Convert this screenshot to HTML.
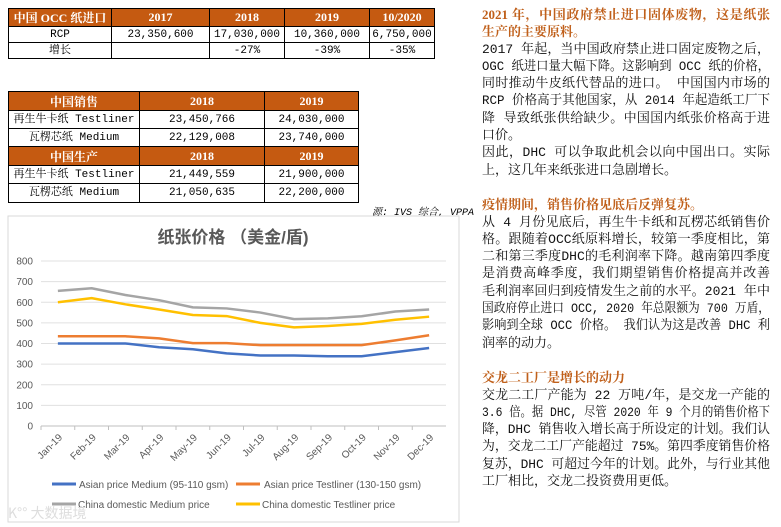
<!DOCTYPE html>
<html><head><meta charset="utf-8">
<style>
body{margin:0;width:781px;height:527px;background:#fff;position:relative;overflow:hidden;font-family:"Liberation Mono","Noto Serif CJK SC",monospace;}
table{border-collapse:collapse;position:absolute;font-size:11px;}
td{border:1px solid #000;text-align:center;padding:0;line-height:14px;}
th{background:#c55a11;color:#fff;font-family:"Liberation Serif","Noto Serif CJK SC",serif;font-weight:bold;font-size:12px;border:1px solid #000;padding:0;}
.txt{position:absolute;left:482px;width:288px;font-size:13px;color:#111;}
.txt div{height:17.3px;line-height:17.3px;white-space:nowrap;text-align:justify;text-align-last:justify;transform-origin:0 50%;}
.txt div.l{text-align-last:left;}
.txt .h{color:#c0601b;font-weight:bold;font-family:"Liberation Serif","Noto Serif CJK SC",serif;}
</style></head><body>
<table style="left:8px;top:8px;width:427px;">
<tr style="height:16px"><th style="width:102px">中国 OCC 纸进口</th><th style="width:97px">2017</th><th style="width:74px">2018</th><th style="width:84px">2019</th><th>10/2020</th></tr>
<tr style="height:16px"><td>RCP</td><td>23,350,600</td><td>17,030,000</td><td>10,360,000</td><td>6,750,000</td></tr>
<tr style="height:16px"><td>增长</td><td></td><td>-27%</td><td>-39%</td><td>-35%</td></tr>
</table>
<table style="left:8px;top:91px;width:351px;">
<tr style="height:19px"><th style="width:130px">中国销售</th><th style="width:124px">2018</th><th>2019</th></tr>
<tr style="height:18px"><td>再生牛卡纸 Testliner</td><td>23,450,766</td><td>24,030,000</td></tr>
<tr style="height:18px"><td>瓦楞芯纸 Medium</td><td>22,129,008</td><td>23,740,000</td></tr>
<tr style="height:19px"><th>中国生产</th><th>2018</th><th>2019</th></tr>
<tr style="height:18px"><td>再生牛卡纸 Testliner</td><td>21,449,559</td><td>21,900,000</td></tr>
<tr style="height:19px"><td>瓦楞芯纸 Medium</td><td>21,050,635</td><td>22,200,000</td></tr>
</table>
<div style="position:absolute;left:372px;top:203px;font-size:10px;font-style:italic;">源: IVS 综合, VPPA</div>

<svg style="position:absolute;left:0;top:0" width="781" height="527">
<rect x="8" y="216" width="451" height="306" fill="#fff" stroke="#d9d9d9"/>
<text x="233" y="243" text-anchor="middle" font-size="17" font-weight="bold" fill="#595959" font-family="Liberation Sans,Noto Sans CJK SC,sans-serif">纸张价格 （美金/盾)</text>
<g id="grid"></g><g id="lines"></g><g id="labels"></g>
<g font-family="Liberation Sans,sans-serif" font-size="10" fill="#595959">
<line x1="52" y1="484" x2="76" y2="484" stroke="#4472c4" stroke-width="3"/><text x="79" y="488">Asian price Medium (95-110 gsm)</text>
<line x1="236" y1="484" x2="260" y2="484" stroke="#ed7d31" stroke-width="3"/><text x="264" y="488">Asian price Testliner (130-150 gsm)</text>
<line x1="52" y1="504" x2="76" y2="504" stroke="#a5a5a5" stroke-width="3"/><text x="78" y="508">China domestic  Medium price</text>
<line x1="236" y1="504" x2="260" y2="504" stroke="#ffc000" stroke-width="3"/><text x="262" y="508">China domestic  Testliner price</text>
</g>
<text x="8" y="518" font-size="14" fill="#ddd" font-family="Noto Sans CJK SC,sans-serif">K°° 大数据境</text>
</svg>

<div class="txt" style="top:6px">
<div class="h">2021 年，中国政府禁止进口固体废物，这是纸张</div>
<div class="h l">生产的主要原料。</div>
<div>2017 年起，当中国政府禁止进口固定废物之后，</div>
<div>OGC 纸进口量大幅下降。这影响到 OCC 纸的价格，</div>
<div>同时推动牛皮纸代替品的进口。  中国国内市场的</div>
<div>RCP 价格高于其他国家，从 2014 年起造纸工厂下</div>
<div>降 导致纸张供给缺少。中国国内纸张价格高于进</div>
<div class="l">口价。</div>
<div>因此，DHC 可以争取此机会以向中国出口。实际</div>
<div class="l">上，这几年来纸张进口急剧增长。</div>
<div class="l">&nbsp;</div>
<div class="h l">疫情期间，销售价格见底后反弹复苏。</div>
<div>从 4 月份见底后，再生牛卡纸和瓦楞芯纸销售价</div>
<div>格。跟随着OCC纸原料增长，较第一季度相比，第</div>
<div>二和第三季度DHC的毛利润率下降。越南第四季度</div>
<div>是消费高峰季度，我们期望销售价格提高并改善</div>
<div>毛利润率回归到疫情发生之前的水平。2021 年中</div>
<div>国政府停止进口 OCC, 2020 年总限额为 700 万盾，</div>
<div>影响到全球 OCC 价格。  我们认为这是改善 DHC 利</div>
<div class="l">润率的动力。</div>
<div class="l">&nbsp;</div>
<div class="h l">交龙二工厂是增长的动力</div>
<div>交龙二工厂产能为 22 万吨/年，是交龙一产能的</div>
<div>3.6 倍。据 DHC, 尽管 2020 年 9 个月的销售价格下</div>
<div>降，DHC 销售收入增长高于所设定的计划。我们认</div>
<div>为，交龙二工厂产能超过 75%。第四季度销售价格</div>
<div>复苏，DHC 可超过今年的计划。此外，与行业其他</div>
<div class="l">工厂相比，交龙二投资费用更低。</div>
</div>

<script>
const months=["Jan-19","Feb-19","Mar-19","Apr-19","May-19","Jun-19","Jul-19","Aug-19","Sep-19","Oct-19","Nov-19","Dec-19"];
const asianMedium=[400,400,400,382,372,352,342,342,338,338,358,378];
const asianTestliner=[435,435,435,425,402,402,392,392,392,392,415,440];
const chinaMedium=[655,668,635,610,575,570,550,518,522,532,555,565];
const chinaTestliner=[600,620,590,565,538,533,500,478,485,495,515,530];
const yTicks=[0,100,200,300,400,500,600,700,800];
const NS="http://www.w3.org/2000/svg";
const x0=41,x1=446,yb=426,yt=261;
function xs(i){return x0+(x1-x0)/months.length*(i+0.5);}
function ys(v){return yb-(yb-yt)*v/800;}
const grid=document.getElementById('grid'),lab=document.getElementById('labels'),lg=document.getElementById('lines');
yTicks.forEach(t=>{
 const l=document.createElementNS(NS,'line');
 
 
 l.setAttribute('x1',x0);l.setAttribute('x2',x1);l.setAttribute('y1',ys(t));l.setAttribute('y2',ys(t));
 l.setAttribute('stroke',t===0?'#bfbfbf':'#e0e0e0');grid.appendChild(l);
 const tx=document.createElementNS(NS,'text');
 
 
 tx.setAttribute('x',33);tx.setAttribute('y',ys(t)+3.5);tx.setAttribute('text-anchor','end');
 tx.setAttribute('font-size','10');tx.setAttribute('fill','#595959');tx.setAttribute('font-family','Liberation Sans,sans-serif');
 tx.textContent=t;lab.appendChild(tx);
});
months.forEach((m,i)=>{
 const tk=document.createElementNS(NS,'line');
 
 
 const xx=x0+(x1-x0)/months.length*i;
 tk.setAttribute('x1',xx);tk.setAttribute('x2',xx);tk.setAttribute('y1',yb);tk.setAttribute('y2',yb+4);tk.setAttribute('stroke','#bfbfbf');grid.appendChild(tk);
 const tx=document.createElementNS(NS,'text');
 
 
 tx.setAttribute('x',xs(i)+5);tx.setAttribute('y',yb+12);tx.setAttribute('text-anchor','end');
 tx.setAttribute('transform','rotate(-45 '+(xs(i)+5)+' '+(yb+12)+')');
 tx.setAttribute('font-size','10');tx.setAttribute('fill','#595959');tx.setAttribute('font-family','Liberation Sans,sans-serif');
 tx.textContent=m;lab.appendChild(tx);
});
[[chinaMedium,'#a5a5a5','china-medium-line'],[chinaTestliner,'#ffc000','china-testliner-line'],[asianTestliner,'#ed7d31','asian-testliner-line'],[asianMedium,'#4472c4','asian-medium-line']].forEach(s=>{
 const p=document.createElementNS(NS,'polyline');
 
 
 p.setAttribute('points',s[0].map((v,i)=>xs(i)+','+ys(v)).join(' '));
 p.setAttribute('fill','none');p.setAttribute('stroke',s[1]);p.setAttribute('stroke-width','2.5');p.setAttribute('stroke-linejoin','round');
 lg.appendChild(p);
});
// fit overflowing text lines to 288px
document.querySelectorAll('.txt div').forEach(d=>{
 const sp=document.createElement('span');sp.innerHTML=d.innerHTML;
 d.innerHTML='';d.appendChild(sp);
 const w=sp.getBoundingClientRect().width;
 if(w>288){d.style.width=w+'px';d.style.transform='scaleX('+(288/w)+')';}
});
</script>
</body></html>
